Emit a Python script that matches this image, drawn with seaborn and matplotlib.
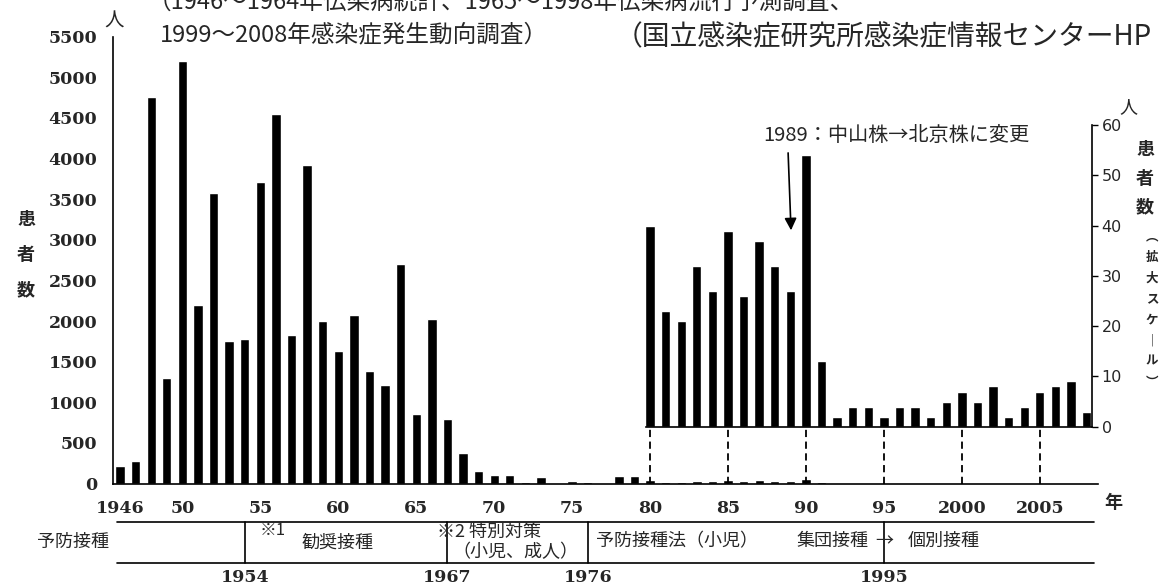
######## 日本脳炎 患者数 推移 (1946-2008) 棒グラフ再現
import matplotlib
matplotlib.use("Agg")
import matplotlib.pyplot as plt
from matplotlib.lines import Line2D
from matplotlib.ticker import MultipleLocator
import matplotlib.transforms as mtransforms
import pandas as pd
import seaborn as sns

# データ
years = list(range(1946, 2009))
cases = [210, 275, 4760, 1300, 5205, 2200, 3570, 1750, 1780, 3710,
         4545, 1830, 3920, 2000, 1625, 2075, 1380, 1215, 2700, 860,
         2030, 790, 380, 150, 110, 100, 20, 75, 10, 35,
         15, 5, 90, 90, 40, 23, 21, 32, 27, 39,
         26, 37, 32, 27, 54, 13, 2, 4, 4, 2,
         4, 4, 2, 5, 7, 5, 8, 2, 4, 7,
         8, 9, 3]

main_ticks = [1946, 1950, 1955, 1960, 1965, 1970, 1975, 1980, 1985, 1990, 1995, 2000, 2005]
main_labels = ["1946", "50", "55", "60", "65", "70", "75", "80", "85", "90", "95", "2000", "2005"]
left_ticks = list(range(0, 5501, 500))
right_ticks = list(range(0, 61, 10))
zoom_start = 1980
guide_years = [1980, 1985, 1990, 1995, 2000, 2005]

# 予防接種の時期区分
period_bounds = [1954, 1967, 1976, 1995]

df = pd.DataFrame({"year": years, "cases": cases})
df_zoom = df[df["year"] >= zoom_start]

sns.set_style("white")
plt.rcParams["font.family"] = ["Noto Sans CJK JP", "DejaVu Sans"]

W, H = 1171, 585
fig = plt.figure(figsize=(W / 100, H / 100), dpi=100)


def fx(px):
    return px / W


def fy(py):
    return 1 - py / H


num_font = dict(family="DejaVu Serif", fontweight="bold", fontsize=12.5)

# メインの軸
ax = fig.add_axes([fx(112.7), fy(483.5), fx(1098) - fx(112.7), fy(36.7) - fy(483.5)])
sns.barplot(data=df, x="year", y="cases", native_scale=True, color="black",
            saturation=1, width=0.6, errorbar=None, ax=ax)
ax.set_xlim(1945.53, 2008.73)
ax.set_ylim(0, 5500)
ax.set_xlabel("")
ax.set_ylabel("")
for s in ["top", "right"]:
    ax.spines[s].set_visible(False)
for s in ["left", "bottom"]:
    ax.spines[s].set_color("black")
    ax.spines[s].set_linewidth(1.2)
ax.set_xticks(main_ticks, main_labels, **num_font)
ax.set_yticks(left_ticks, [str(v) for v in left_ticks], **num_font)
ax.xaxis.set_minor_locator(MultipleLocator(1))
ax.tick_params(axis="x", which="major", direction="out", length=3, width=1, pad=9, color="black")
ax.tick_params(axis="x", which="minor", direction="out", length=2, width=0.6, color="black")
ax.tick_params(axis="y", direction="out", length=4, width=1, pad=7, color="black")
ax.patch.set_alpha(0)

# 拡大スケールの軸
ax_in = fig.add_axes([fx(646), fy(426.7), fx(1092) - fx(646), fy(125) - fy(426.7)])
sns.barplot(data=df_zoom, x="year", y="cases", native_scale=True, color="black",
            saturation=1, width=0.6, errorbar=None, ax=ax_in)
ax_in.set_xlim(1979.74, 2008.35)
ax_in.set_ylim(0, 60)
ax_in.set_xlabel("")
ax_in.set_ylabel("")
ax_in.patch.set_alpha(0)
for s in ["top", "left"]:
    ax_in.spines[s].set_visible(False)
for s in ["right", "bottom"]:
    ax_in.spines[s].set_color("black")
    ax_in.spines[s].set_linewidth(1.2)
ax_in.yaxis.tick_right()
ax_in.set_yticks(right_ticks, [str(v) for v in right_ticks], family="DejaVu Sans", fontsize=11.5)
ax_in.set_xticks(guide_years, [""] * len(guide_years))
ax_in.xaxis.set_minor_locator(MultipleLocator(1))
ax_in.tick_params(axis="x", which="major", direction="out", length=3, width=1, color="black")
ax_in.tick_params(axis="x", which="minor", direction="out", length=2, width=0.6, color="black")
ax_in.tick_params(axis="y", direction="out", length=4, width=1, pad=3, color="black")

# 拡大軸とメイン軸をつなぐ破線
main_pos = ax.get_position()
in_pos = ax_in.get_position()
y_link = (in_pos.y0 - main_pos.y0) / main_pos.height * 5500
ax.vlines(guide_years, 0, y_link, colors="black", linestyles=(0, (4, 2.5)),
          linewidth=1.3, clip_on=False)

# 1989 注記と矢印
ax_in.text(1987.24, 58, "1989：中山株→北京株に変更", fontsize=14.5, va="center", ha="left")
ax_in.annotate("", xy=(1989.05, 38.5), xytext=(1988.85, 55),
               arrowprops=dict(arrowstyle="-|>", color="black", lw=1.2, mutation_scale=18))

# タイトル (出典) ※1行目は原図同様に上端で切れる
fig.text(fx(148), fy(2), "（1946～1964年伝染病統計、1965～1998年伝染病流行予測調査、",
         fontsize=17, va="center")
fig.text(fx(160), fy(35), "1999～2008年感染症発生動向調査）", fontsize=17, va="center")
fig.text(fx(615), fy(37), "（国立感染症研究所感染症情報センターHP", fontsize=20, va="center")

# 単位
fig.text(fx(114), fy(21), "人", fontsize=14, ha="center", va="center")
fig.text(fx(1128), fy(107), "人", fontsize=13, ha="center", va="center")
fig.text(fx(1113), fy(502), "年", fontsize=13, fontweight="bold", ha="center", va="center")


def vtext(x, y0, chars, step, size, weight="bold"):
    for i, c in enumerate(chars):
        fig.text(fx(x), fy(y0 + i * step), c, fontsize=size, fontweight=weight,
                 ha="center", va="center")


vtext(26, 220, "患者数", 35, 13)
vtext(1145, 150, "患者数", 28.5, 13)
vtext(1152, 237, "︵拡大スケ｜ル︶", 20.7, 9)

# 予防接種の時期区分の表
tab_top, tab_bot = 522.3, 563.3
for yy in [tab_top, tab_bot]:
    fig.add_artist(Line2D([fx(116.7), fx(1093.7)], [fy(yy), fy(yy)],
                          transform=fig.transFigure, color="black", linewidth=1.2))
trans = mtransforms.blended_transform_factory(ax.transData, fig.transFigure)
for yr in period_bounds:
    ax.plot([yr, yr], [fy(tab_top), fy(tab_bot)], transform=trans, color="black",
            linewidth=1.2, clip_on=False)
    ax.text(yr, fy(577), str(yr), transform=trans, ha="center", va="center", **num_font)

fig.text(fx(73), fy(542), "予防接種", fontsize=13, ha="center", va="center")
fig.text(fx(273), fy(530), "※1", fontsize=12, ha="center", va="center")
fig.text(fx(338), fy(543), "勧奨接種", fontsize=13, ha="center", va="center")
fig.text(fx(437), fy(532), "※2 特別対策", fontsize=13, ha="left", va="center")
fig.text(fx(452), fy(552), "（小児、成人）", fontsize=13, ha="left", va="center")
fig.text(fx(596), fy(541), "予防接種法（小児）", fontsize=13, ha="left", va="center")
fig.text(fx(832), fy(541), "集団接種", fontsize=13, ha="center", va="center")
fig.text(fx(884), fy(541), "→", fontsize=13, ha="center", va="center")
fig.text(fx(944), fy(541), "個別接種", fontsize=13, ha="center", va="center")

fig.savefig("out.png", dpi=100)
